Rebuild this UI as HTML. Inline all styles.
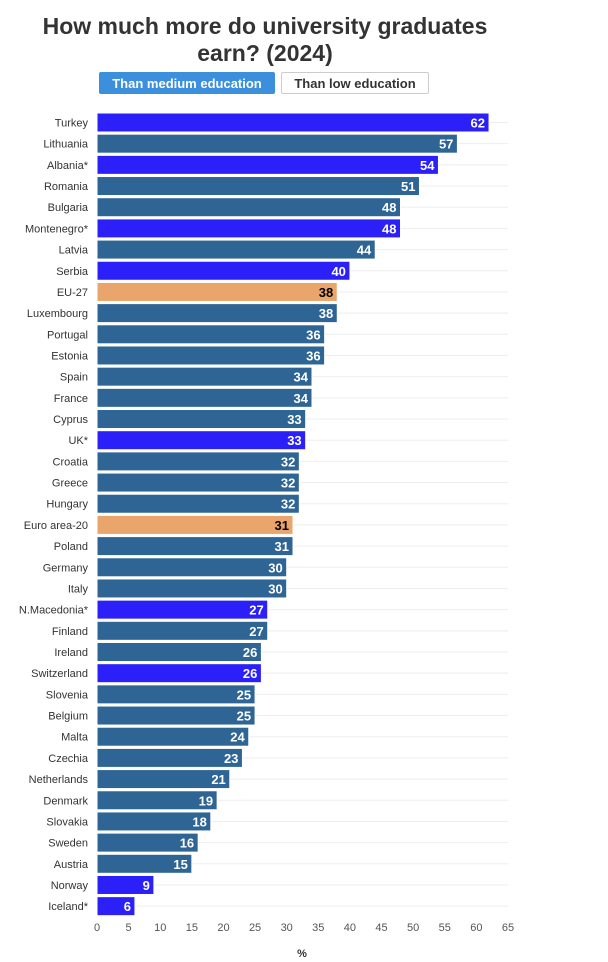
<!DOCTYPE html>
<html><head><meta charset="utf-8">
<style>
body{margin:0;background:#fff;width:608px;height:962px;overflow:hidden;font-family:"Liberation Sans",sans-serif;}
#title{position:absolute;left:0;width:530px;top:13px;text-align:center;font-size:23px;font-weight:bold;color:#333;line-height:27px;}
.btn{position:absolute;top:72px;height:22px;line-height:22px;font-size:13px;font-weight:bold;text-align:center;box-sizing:border-box;border-radius:2px;}
</style></head><body>
<div id="title">How much more do university graduates<br>earn? (2024)</div>
<div class="btn" style="left:99px;width:176px;background:#3b8fdc;color:#fff;border:1px solid #3b8fdc;">Than medium education</div>
<div class="btn" style="left:281px;width:148px;background:#fff;color:#333;border:1px solid #ccc;">Than low education</div>
<svg id="chart" width="608" height="962" style="position:absolute;left:0;top:0"></svg>
<script>
const countries=["Turkey","Lithuania","Albania*","Romania","Bulgaria","Montenegro*","Latvia","Serbia","EU-27","Luxembourg","Portugal","Estonia","Spain","France","Cyprus","UK*","Croatia","Greece","Hungary","Euro area-20","Poland","Germany","Italy","N.Macedonia*","Finland","Ireland","Switzerland","Slovenia","Belgium","Malta","Czechia","Netherlands","Denmark","Slovakia","Sweden","Austria","Norway","Iceland*"];
const values=[62,57,54,51,48,48,44,40,38,38,36,36,34,34,33,33,32,32,32,31,31,30,30,27,27,26,26,25,25,24,23,21,19,18,16,15,9,6];
const groups=["non","eu","non","eu","eu","non","eu","non","agg","eu","eu","eu","eu","eu","eu","non","eu","eu","eu","agg","eu","eu","eu","non","eu","eu","non","eu","eu","eu","eu","eu","eu","eu","eu","eu","non","non"];
const ticks=[0,5,10,15,20,25,30,35,40,45,50,55,60,65];
const colors={non:"#2b20f7",eu:"#2e6594",agg:"#e9a56c"};
const NS="http://www.w3.org/2000/svg";
const svg=document.getElementById('chart');
const X0=97,X1=508,MAX=65,Y0=113,PITCH=21.18,BH=19;
const x=v=>X0+(v/MAX)*(X1-X0);
const y=i=>Y0+i*PITCH;
function mk(t,a){const e=document.createElementNS(NS,t);for(const k in a)e.setAttribute(k,a[k]);svg.appendChild(e);return e;}
countries.forEach((c,i)=>{
  const g=mk('line',{x1:X0,x2:X1,y1:y(i)+BH/2,y2:y(i)+BH/2,stroke:'#eee','stroke-width':1});
  
  
  const r=mk('rect',{x:X0,y:y(i),width:x(values[i])-X0,height:BH,fill:colors[groups[i]],stroke:'#fff','stroke-width':1});
  
  
  const l=mk('text',{x:88,y:y(i)+BH/2+4,'text-anchor':'end','font-size':11,fill:'#333'});
  l.textContent=c;
  
  
  const v=mk('text',{x:x(values[i])-4,y:y(i)+BH/2+5,'text-anchor':'end','font-size':13,'font-weight':'bold',fill:groups[i]==='agg'?'#000':'#fff'});
  v.textContent=values[i];
  
  
});
ticks.forEach(t=>{
  const e=mk('text',{x:x(t),y:931,'text-anchor':'middle','font-size':11,fill:'#555'});
  e.textContent=t;
  
  
});
const at=mk('text',{x:302,y:957,'text-anchor':'middle','font-size':11,'font-weight':'bold',fill:'#333'});
at.textContent='%';


</script>
</body></html>
